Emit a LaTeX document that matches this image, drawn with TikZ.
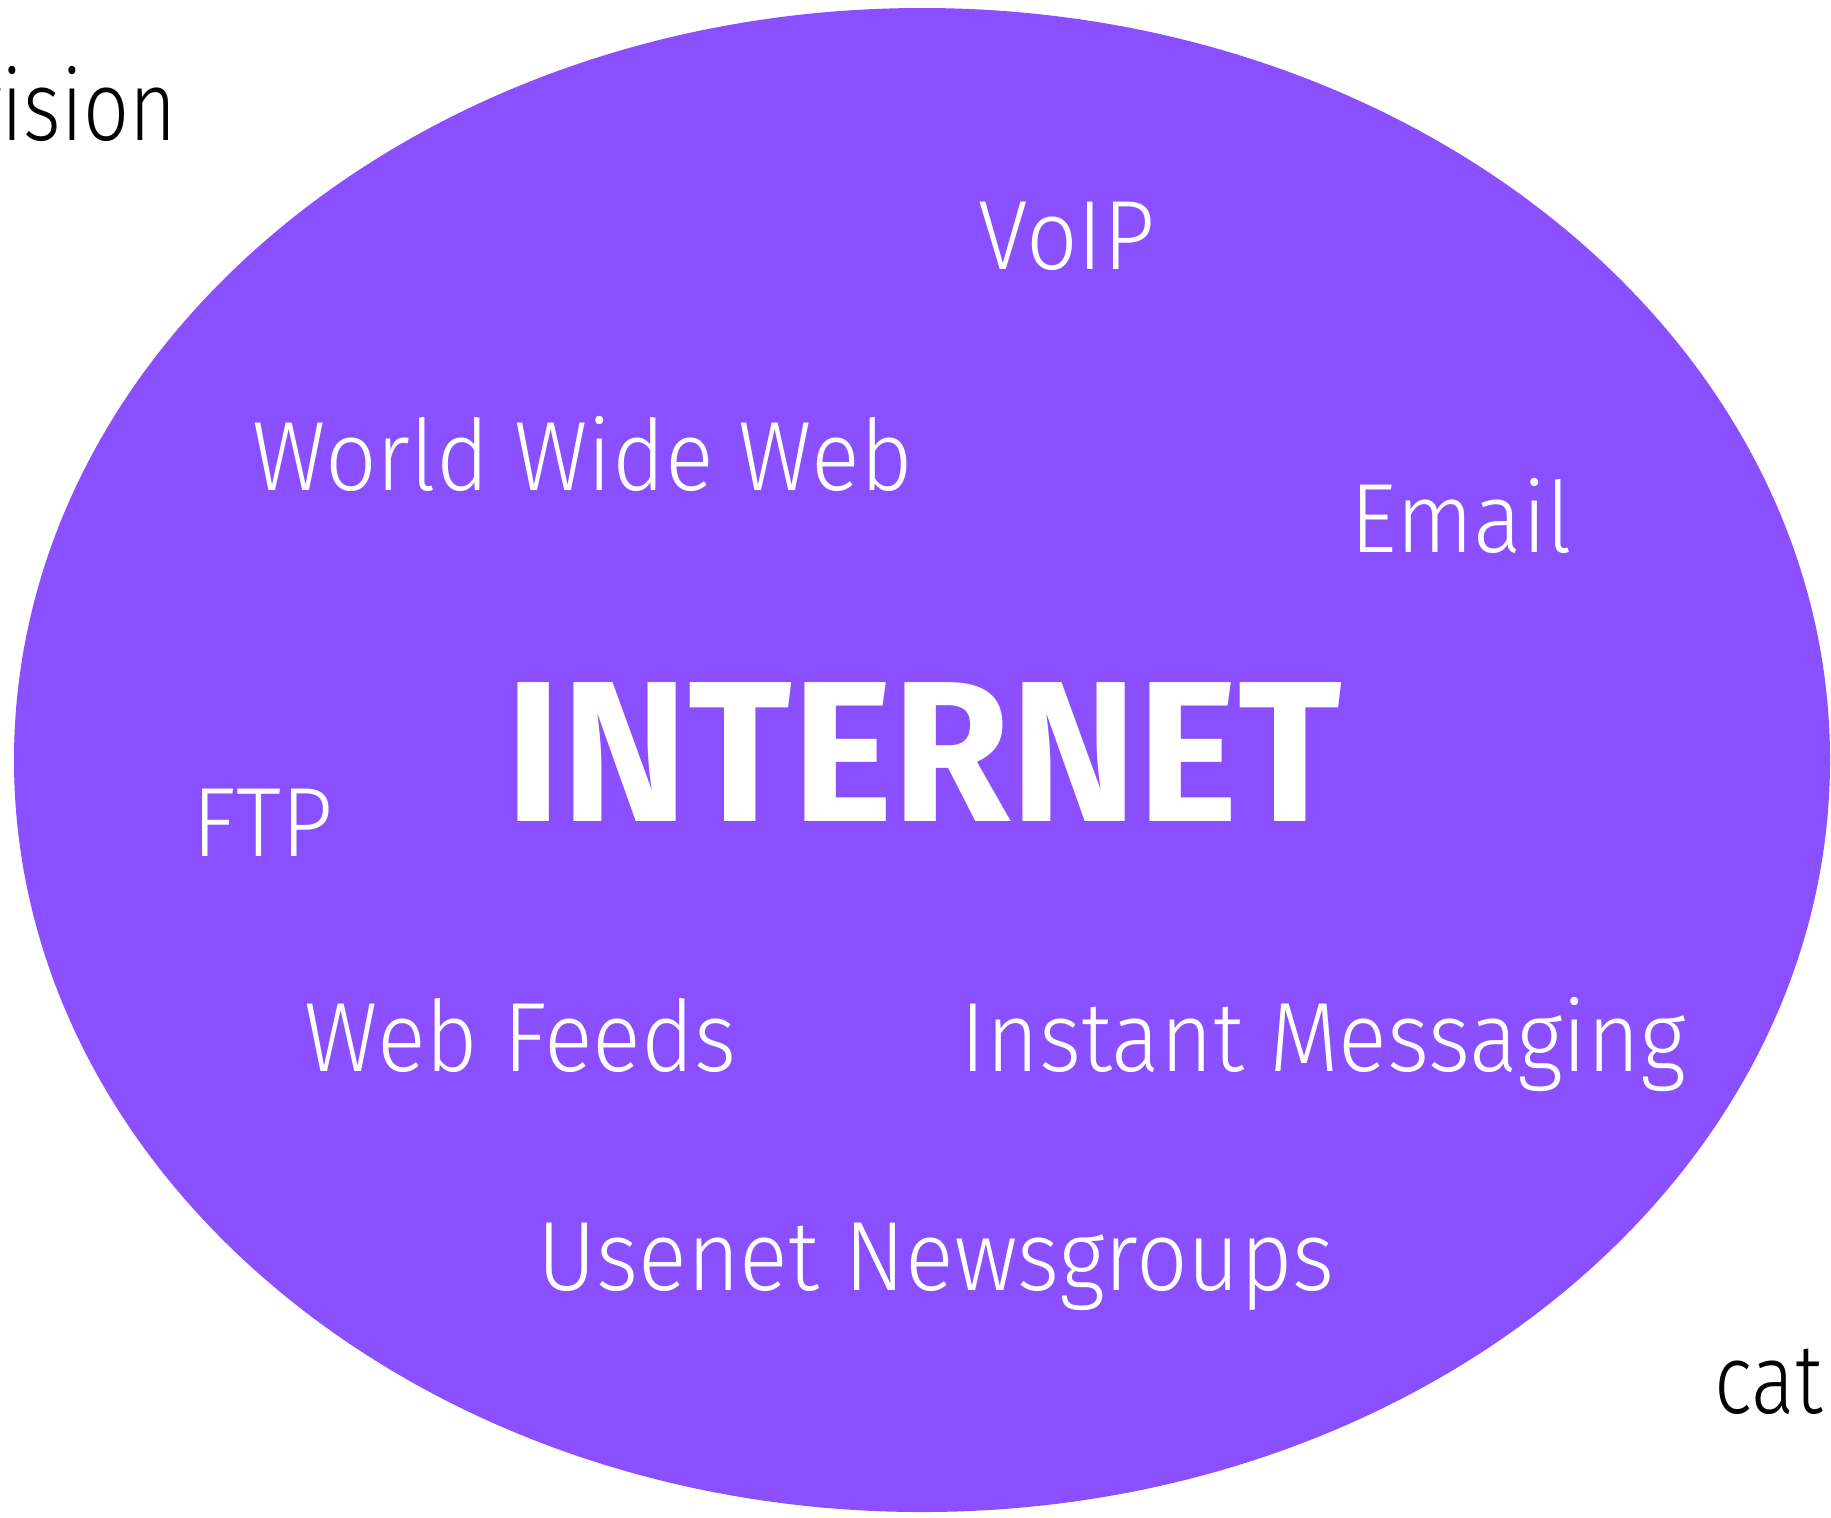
\documentclass[tikz,border=0pt]{standalone}
\usepackage{fontspec}
\setmainfont{Fira Sans Light}[FakeStretch=0.92]
\newfontfamily\boldface{Fira Sans Bold}[FakeStretch=0.955]
\newfontfamily\narrowface{Fira Sans Light}[FakeStretch=0.82]
\definecolor{netpurple}{RGB}{138,79,255}
\begin{document}
\begin{tikzpicture}[x=0.01cm,y=-0.01cm,
  service/.style={anchor=base west,inner sep=0pt,text=white,font=\fontsize{28}{30}\selectfont},
  outside/.style={inner sep=0pt,text=black,font=\narrowface\fontsize{28}{30}\selectfont}]
\useasboundingbox (0,0) rectangle (1831,1517);
\fill[netpurple] (922,760) ellipse [x radius=908,y radius=752];
% words outside the circle
\node[outside,anchor=base east] (tv) at (177,140) {vision};
\node[outside,anchor=base west] (cable) at (1714,1413) {cat};
% services
\node[service] (voip) at (978,269) {VoIP};
\node[service] (www) at (252,490) {World Wide Web};
\node[service] (email) at (1350,552) {Email};
\node[service,font=\boldface\fontsize{57}{60}\selectfont] (internet) at (505,821) {INTERNET};
\node[service] (ftp) at (192,856) {FTP};
\node[service] (feeds) at (304,1071) {Web Feeds};
\node[service] (im) at (960,1071) {Instant Messaging};
\node[service] (usenet) at (537,1290) {Usenet Newsgroups};
\end{tikzpicture}
\end{document}
